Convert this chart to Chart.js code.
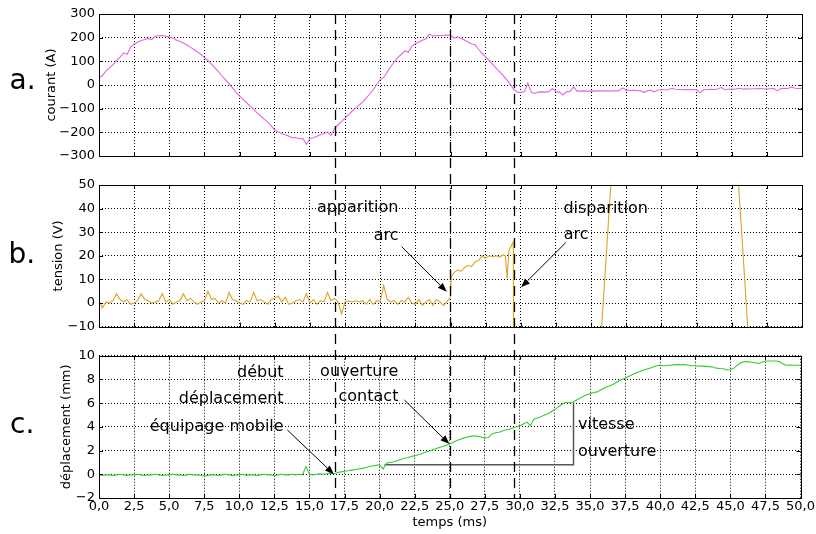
<!DOCTYPE html>
<html><head><meta charset="utf-8">
<script src="https://cdn.jsdelivr.net/npm/chart.js@4/dist/chart.umd.min.js"></script>
<style>
html,body{margin:0;padding:0;background:#fff;}
#wrap{position:relative;width:816px;height:534px;overflow:hidden;}
canvas{position:absolute;left:0;}
</style></head><body>
<div id="wrap">
<canvas id="ca" width="816" height="170" style="top:0px"></canvas>
<canvas id="cb" width="816" height="170" style="top:170px"></canvas>
<canvas id="cc" width="816" height="194" style="top:340px"></canvas>
<canvas id="ov" width="816" height="534" style="top:0px;pointer-events:none"></canvas>
</div>
<script>
// ---------- data ----------
// sampling grid (ms)
const time = Array.from({length: 201}, (_, i) => i * 0.25);

// a. courant (A), one value per 0.25 ms
const courant = [
 30,40,60,72,86,103,118,136,130,160,
 172,182,188,192,197,192,206,208,209,206,
 203,198,190,184,177,169,160,150,140,129,
 116,104,88,72,55,38,22,6,-12,-30,
 -47,-61,-75,-89,-103,-118,-131,-144,-157,-173,
 -190,-198,-205,-210,-217,-223,-222,-227,-226,-250,
 -226,-223,-217,-210,-205,-199,-213,-184,-168,-154,
 -140,-125,-110,-98,-85,-72,-55,-38,-20,2,
 22,32,55,77,98,116,130,144,138,163,
 174,182,189,195,215,207,208,209,210,211,
 210,198,204,196,190,182,173,170,150,133,
 119,103,87,70,55,40,22,3,-18,-30,
 -32,-28,8,-31,-36,-30,-29,-30,-28,-15,
 -28,-30,-42,-28,-27,-8,-26,-26,-25,-27,
 -25,-26,-24,-25,-24,-26,-24,-25,-24,-12,
 -22,-23,-22,-23,-24,-31,-24,-22,-29,-21,
 -20,-20,-19,-14,-18,-19,-20,-19,-20,-19,
 -20,-33,-20,-19,-18,-19,-17,-11,-19,-18,
 -17,-18,-14,-17,-16,-17,-16,-16,-15,-16,
 -17,-16,-15,-24,-15,-14,-15,-8,-14,-15,
 -14
];

// b. tension (V) before the arc, one value per 0.25 ms from 0 to 25 ms
const tensionAvantArc = [
 1,-2,0.5,0,1,4,1.5,0.5,1.5,-0.5,
 0,1,4,1.5,1,0,0.5,1,4,0.5,
 1.5,-0.5,0.5,1,4,1,2,0.5,-0.5,0.5,
 1,5,1.5,2,0,1,0,4.5,1.5,1,
 0,-0.5,1,0.5,4.5,1,1.5,0.5,-0.5,1.5,
 2,3,0.5,2.5,-0.5,0,1,1.5,0.5,4,
 0,1.5,-0.5,1,0.5,4.5,1,2,0.5,-4.5,
 0.5,1,0.5,1,0.5,1,-0.5,1.5,-0.5,1,
 0.5,7.5,1.5,0.5,1,-0.5,1,0.5,2.5,0,
 -0.5,1.5,-1,0.5,1.5,-1,1.5,0.5,-1,0.5,
 2.5
];
// b. tension (V) during the arc and after it
const tensionArcTime = [
 25.05,25.25,25.5,25.75,26.0,26.25,26.5,26.75,27.0,27.25,
 27.5,27.75,28.0,28.25,28.5,28.75,28.9,29.03,29.15,29.3,
 29.47,29.53,30,31,32,33,34,35,35.5,35.75,
 36.0,36.25,36.5,37,38,39,40,41,42,43,
 44,45,45.25,45.5,45.75,46.0,46.25,46.5,47,48,
 49,50
];
const tensionArcValues = [
 11,13,14,13.5,15,16,15.5,17.5,18,20,
 19,20,19.5,20,19.5,20.5,20,10.5,22,24,
 26,-255,-268,-289,-283,-245,-183,-103,-33,-10,
 13,36,59,103,184,247,287,300,284,242,
 177,93,72,49,26,3,-20,-43,-89,-172,
 -238,-282
];

// c. déplacement (mm), one value per 0.25 ms
const deplacement = [
 -0.05,-0.1,-0.05,-0.05,-0.1,-0.05,0,-0.05,-0.1,-0.05,
 -0.05,0,-0.05,-0.1,-0.05,-0.05,0,-0.05,-0.1,-0.05,
 -0.05,0,-0.05,-0.05,-0.1,-0.05,0,-0.05,-0.05,-0.1,
 -0.15,-0.1,-0.05,-0.05,-0.1,-0.05,0,-0.05,-0.1,-0.05,
 -0.05,0,-0.1,-0.05,-0.05,-0.1,-0.05,0,-0.05,-0.05,
 -0.1,-0.05,0,-0.05,-0.05,0,-0.05,0,-0.05,0.65,
 0,-0.05,0,0.05,0,0.05,0.1,0.05,0.15,0.2,
 0.25,0.3,0.35,0.4,0.45,0.5,0.55,0.65,0.7,0.75,
 0.8,0.45,0.95,1.0,1.05,1.15,1.25,1.35,1.4,1.5,
 1.55,1.65,1.75,1.85,1.95,2.05,2.15,2.25,2.35,2.45,
 2.55,2.7,2.85,2.95,3.05,3.15,3.2,3.25,3.2,3.15,
 3.05,3.1,3.4,3.5,3.55,3.65,3.75,3.8,3.9,4.0,
 4.1,4.25,4.4,4.1,4.65,4.75,4.85,5.0,5.1,5.3,
 5.45,5.7,5.9,6.05,6.05,6.08,6.25,6.4,6.55,6.7,
 6.8,6.9,6.95,7.1,7.25,7.4,7.5,7.65,7.85,8.0,
 8.1,8.25,8.4,8.55,8.65,8.75,8.85,8.95,9.05,9.15,
 9.2,9.15,9.2,9.2,9.25,9.25,9.25,9.25,9.2,9.15,
 9.15,9.12,9.12,9.1,9.08,9.05,8.95,8.92,8.9,8.8,
 8.82,8.95,9.2,9.4,9.5,9.5,9.45,9.4,9.35,9.45,
 9.55,9.55,9.55,9.55,9.5,9.3,9.2,9.22,9.2,9.2,
 9.22
];

// c. opening-speed construction (ms, mm)
const vitesseTime = [20.35, 33.82, 33.82];
const vitesseValues = [0.8, 0.8, 6.05];

// event markers (ms)
const evenements = [16.84, 25.0, 29.57];

// tick values
const xTicks = [0,2.5,5,7.5,10,12.5,15,17.5,20,22.5,25,27.5,30,32.5,35,37.5,40,42.5,45,47.5,50];
const yTicksA = [-300,-200,-100,0,100,200,300];
const yTicksB = [-10,0,10,20,30,40,50];
const yTicksC = [-2,0,2,4,6,8,10];

// annotations (text anchored at data coordinates)
const notesB = {
  texts: [
    {text:'apparition', t:21.3, v:38.4, align:'right'},
    {text:'arc', t:21.3, v:26.7, align:'right'},
    {text:'disparition', t:33.03, v:38.3, align:'left'},
    {text:'arc', t:33.05, v:27.0, align:'left'}
  ],
  arrows: [
    {from:[21.53,23.9], to:[24.73,4.8]},
    {from:[33.2,25.6], to:[30.02,6.7]}
  ]
};
const notesC = {
  texts: [
    {text:'début', t:13.16, v:8.23, align:'right'},
    {text:'déplacement', t:13.16, v:5.99, align:'right'},
    {text:'équipage mobile', t:13.16, v:3.68, align:'right'},
    {text:'ouverture', t:21.34, v:8.31, align:'right'},
    {text:'contact', t:21.34, v:6.21, align:'right'},
    {text:'vitesse', t:34.14, v:3.82, align:'left'},
    {text:'ouverture', t:34.14, v:1.54, align:'left'}
  ],
  arrows: [
    {from:[13.42,3.74], to:[16.74,0.0]},
    {from:[21.77,6.26], to:[24.97,2.55]}
  ]
};

// ---------- drawing ----------
const FONT = '"DejaVu Sans", sans-serif';
Chart.defaults.font.family = FONT;
Chart.defaults.font.size = 13;
Chart.defaults.color = '#000';

const framePlugin = {
  id: 'frame',
  afterDatasetsDraw(chart) {
    const {ctx, chartArea: a, scales} = chart;
    const L = 4;
    ctx.save();
    ctx.strokeStyle = '#000';
    ctx.lineWidth = 1;
    ctx.beginPath();
    scales.x.ticks.forEach(t => {
      const x = Math.round(scales.x.getPixelForValue(t.value)) + 0.5;
      ctx.moveTo(x, a.bottom); ctx.lineTo(x, a.bottom - L);
      ctx.moveTo(x, a.top); ctx.lineTo(x, a.top + L);
    });
    scales.y.ticks.forEach(t => {
      const y = Math.round(scales.y.getPixelForValue(t.value)) + 0.5;
      ctx.moveTo(a.left, y); ctx.lineTo(a.left + L, y);
      ctx.moveTo(a.right, y); ctx.lineTo(a.right - L, y);
    });
    ctx.stroke();
    const l = Math.round(a.left) + 0.5, r = Math.round(a.right) + 0.5;
    const tp = Math.round(a.top) + 0.5, b = Math.round(a.bottom) + 0.5;
    ctx.strokeRect(l, tp, r - l, b - tp);
    ctx.restore();
  }
};

function notesPlugin(notes) {
  return {
    id: 'notes',
    afterDraw(chart) {
      if (!notes) return;
      const {ctx, scales: {x, y}} = chart;
      ctx.save();
      ctx.font = '16px ' + FONT;
      ctx.fillStyle = '#000';
      ctx.textBaseline = 'alphabetic';
      notes.texts.forEach(n => {
        ctx.textAlign = n.align;
        ctx.fillText(n.text, x.getPixelForValue(n.t), y.getPixelForValue(n.v));
      });
      ctx.strokeStyle = '#000';
      ctx.lineWidth = 1;
      notes.arrows.forEach(a => {
        const x0 = x.getPixelForValue(a.from[0]), y0 = y.getPixelForValue(a.from[1]);
        const x1 = x.getPixelForValue(a.to[0]), y1 = y.getPixelForValue(a.to[1]);
        const ang = Math.atan2(y1 - y0, x1 - x0);
        const L = 9, W = 3.5;
        const bx = x1 - L * Math.cos(ang), by = y1 - L * Math.sin(ang);
        ctx.beginPath(); ctx.moveTo(x0, y0); ctx.lineTo(bx, by); ctx.stroke();
        ctx.beginPath();
        ctx.moveTo(x1, y1);
        ctx.lineTo(bx + W * Math.sin(ang), by - W * Math.cos(ang));
        ctx.lineTo(bx - W * Math.sin(ang), by + W * Math.cos(ang));
        ctx.closePath(); ctx.fill();
      });
      ctx.restore();
    }
  };
}

function makePanel(id, o) {
  const gridOpts = { color: '#000', lineWidth: 1, drawTicks: false };
  const borderOpts = { display: false, dash: [1, 2] };
  return new Chart(document.getElementById(id), {
    type: 'line',
    data: { datasets: o.datasets },
    options: {
      responsive: false, animation: false, devicePixelRatio: 1,
      layout: { padding: { left: o.padLeft, right: 14, top: o.padTop, bottom: o.padBottom } },
      plugins: { legend: { display: false }, tooltip: { enabled: false } },
      elements: { point: { radius: 0 }, line: { borderWidth: 1.1, tension: 0 } },
      scales: {
        x: {
          type: 'linear', min: 0, max: 50,
          afterBuildTicks: s => { s.ticks = xTicks.map(v => ({value: v})); },
          afterFit: s => { s.height = o.xAxisHeight; },
          grid: gridOpts, border: borderOpts,
          ticks: { display: o.showX, padding: 1, maxRotation: 0, autoSkip: false,
                   callback: v => Number(v).toFixed(1).replace('.', ',') },
          title: { display: o.showX, text: 'temps (ms)', padding: 0 }
        },
        y: {
          type: 'linear', min: o.yTicks[0], max: o.yTicks[o.yTicks.length - 1],
          afterBuildTicks: s => { s.ticks = o.yTicks.map(v => ({value: v})); },
          afterFit: s => { s.width = 99 - o.padLeft; },
          grid: gridOpts, border: borderOpts,
          ticks: { padding: 4, callback: v => String(v).replace('-', '\u2212') },
          title: { display: true, text: o.yTitle, padding: 0 }
        }
      }
    },
    plugins: [framePlugin, notesPlugin(o.notes)]
  });
}

const chartA = makePanel('ca', {
  padLeft: 43.7, padTop: 14, padBottom: 14, xAxisHeight: 0, showX: false,
  yTicks: yTicksA, yTitle: 'courant (A)',
  datasets: [{ data: time.map((t, i) => ({x: t, y: courant[i]})), borderColor: '#e066e0' }]
});

const tensionData = time.slice(0, tensionAvantArc.length).map((t, i) => ({x: t, y: tensionAvantArc[i]}))
  .concat(tensionArcTime.map((t, i) => ({x: t, y: tensionArcValues[i]})));
const chartB = makePanel('cb', {
  padLeft: 50.9, padTop: 15, padBottom: 13.3, xAxisHeight: 0, showX: false,
  yTicks: yTicksB, yTitle: 'tension (V)', notes: notesB,
  datasets: [{ data: tensionData, borderColor: '#daa520' }]
});

const chartC = makePanel('cc', {
  padLeft: 58.5, padTop: 15.7, padBottom: 3.5, xAxisHeight: 32.5, showX: true,
  yTicks: yTicksC, yTitle: 'déplacement (mm)', notes: notesC,
  datasets: [
    { data: time.map((t, i) => ({x: t, y: deplacement[i]})), borderColor: '#33cc33' },
    { data: vitesseTime.map((t, i) => ({x: t, y: vitesseValues[i]})), borderColor: '#555555', borderWidth: 1.5 }
  ]
});

// overlay: event markers spanning all panels, and panel letters
(function () {
  const ov = document.getElementById('ov').getContext('2d');
  const offA = document.getElementById('ca').offsetTop;
  const offC = document.getElementById('cc').offsetTop;
  const top = offA + chartA.chartArea.top;
  const bottom = offC + chartC.chartArea.bottom;
  ov.save();
  ov.strokeStyle = '#000';
  ov.lineWidth = 1.3;
  ov.setLineDash([10, 6]);
  evenements.forEach(t => {
    const x = Math.round(chartC.scales.x.getPixelForValue(t)) + 0.5;
    ov.beginPath(); ov.moveTo(x, top); ov.lineTo(x, bottom); ov.stroke();
  });
  ov.restore();
  ov.font = '28px ' + FONT;
  ov.fillStyle = '#000';
  ov.textBaseline = 'alphabetic';
  ov.textAlign = 'left';
  ov.fillText('a.', 9.5, 89);
  ov.fillText('b.', 8.5, 263);
  ov.fillText('c.', 10, 433);
})();
</script>
</body></html>
